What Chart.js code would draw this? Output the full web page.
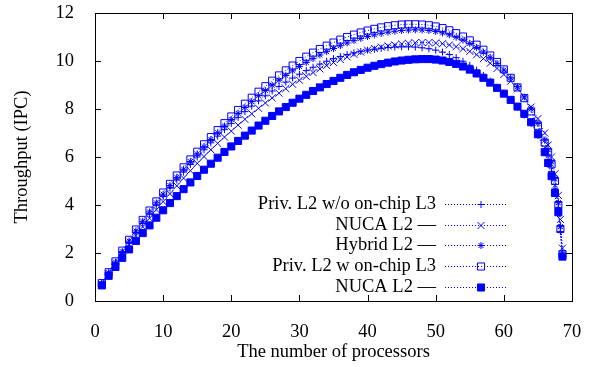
<!DOCTYPE html>
<html>
<head>
<meta charset="utf-8">
<script src="https://cdn.jsdelivr.net/npm/chart.js@4.4.1/dist/chart.umd.min.js"></script>
<style>
  body { margin: 0; background: #fff; }
  canvas { display: block; }
</style>
</head>
<body>
<canvas id="grafik" width="592" height="367"></canvas>
<script>
// number of processors (shared x values)
const processors = [1, 2, 3, 4, 5, 6, 7, 8, 9, 10, 11, 12, 13, 14, 15, 16, 17, 18, 19, 20,
    21, 22, 23, 24, 25, 26, 27, 28, 29, 30, 31, 32, 33, 34, 35, 36, 37, 38, 39, 40,
    41, 42, 43, 44, 45, 46, 47, 48, 49, 50, 51, 52, 53, 54, 55, 56, 57, 58, 59, 60,
    61, 62, 63, 64, 65, 66, 66.5, 67, 67.5, 68, 68.3, 68.6];

// throughput (IPC)
const privNoL3 = [0.72, 1.16, 1.59, 2.02, 2.44, 2.85, 3.24, 3.62, 3.99, 4.35, 4.7, 5.04, 5.37, 5.69, 6.0, 6.3, 6.59, 6.87, 7.14, 7.4,
    7.65, 7.89, 8.12, 8.34, 8.55, 8.75, 8.94, 9.12, 9.29, 9.45, 9.6, 9.74, 9.87, 9.99, 10.1, 10.19, 10.27, 10.34, 10.4, 10.45,
    10.49, 10.53, 10.56, 10.58, 10.59, 10.59, 10.58, 10.55, 10.51, 10.45, 10.37, 10.27, 10.14, 9.99, 9.82, 9.62, 9.4, 9.16, 8.9, 8.64,
    8.37, 8.08, 7.75, 7.4, 6.9, 6.3, 5.9, 5.4, 4.7, 3.9, 2.9, 1.9];
const nucaA = [0.7, 1.12, 1.53, 1.94, 2.34, 2.72, 3.09, 3.45, 3.8, 4.14, 4.47, 4.8, 5.12, 5.43, 5.73, 6.02, 6.3, 6.57, 6.83, 7.08,
    7.33, 7.57, 7.8, 8.03, 8.25, 8.46, 8.66, 8.85, 9.03, 9.2, 9.36, 9.52, 9.67, 9.81, 9.94, 10.06, 10.17, 10.28, 10.37, 10.45,
    10.52, 10.58, 10.63, 10.67, 10.71, 10.74, 10.76, 10.77, 10.77, 10.75, 10.72, 10.67, 10.6, 10.51, 10.4, 10.26, 10.1, 9.91, 9.69, 9.44,
    9.16, 8.84, 8.48, 8.08, 7.6, 7.0, 6.5, 6.0, 5.3, 4.4, 3.4, 2.2];
const hybrid = [0.73, 1.18, 1.62, 2.06, 2.5, 2.92, 3.32, 3.71, 4.09, 4.45, 4.81, 5.15, 5.49, 5.81, 6.13, 6.43, 6.73, 7.01, 7.29, 7.56,
    7.82, 8.07, 8.31, 8.55, 8.77, 8.99, 9.2, 9.4, 9.59, 9.77, 9.94, 10.1, 10.25, 10.39, 10.52, 10.64, 10.75, 10.85, 10.94, 11.02,
    11.09, 11.15, 11.2, 11.24, 11.27, 11.29, 11.3, 11.29, 11.27, 11.23, 11.17, 11.09, 10.99, 10.87, 10.73, 10.56, 10.37, 10.15, 9.9, 9.62,
    9.3, 8.93, 8.5, 8.0, 7.4, 6.7, 6.3, 5.8, 5.1, 4.1, 3.1, 2.0];
const privL3 = [0.75, 1.2, 1.65, 2.1, 2.55, 2.98, 3.38, 3.77, 4.15, 4.52, 4.88, 5.23, 5.57, 5.9, 6.22, 6.53, 6.83, 7.12, 7.41, 7.69,
    7.96, 8.22, 8.47, 8.72, 8.95, 9.18, 9.4, 9.61, 9.81, 10.0, 10.18, 10.35, 10.5, 10.64, 10.77, 10.89, 11.0, 11.1, 11.19, 11.27,
    11.34, 11.4, 11.45, 11.49, 11.52, 11.53, 11.53, 11.52, 11.49, 11.44, 11.37, 11.28, 11.16, 11.02, 10.86, 10.68, 10.47, 10.23, 9.96, 9.65,
    9.3, 8.9, 8.45, 7.9, 7.3, 6.6, 6.2, 5.7, 5.0, 4.0, 3.0, 1.95];
const nucaB = [0.65, 1.05, 1.42, 1.8, 2.15, 2.5, 2.83, 3.15, 3.47, 3.78, 4.08, 4.37, 4.66, 4.94, 5.21, 5.47, 5.72, 5.97, 6.21, 6.44,
    6.67, 6.89, 7.1, 7.31, 7.51, 7.71, 7.9, 8.08, 8.26, 8.43, 8.59, 8.75, 8.9, 9.04, 9.17, 9.3, 9.42, 9.53, 9.63, 9.72,
    9.8, 9.87, 9.93, 9.98, 10.02, 10.05, 10.07, 10.08, 10.08, 10.06, 10.02, 9.96, 9.88, 9.77, 9.64, 9.48, 9.3, 9.1, 8.88, 8.64,
    8.38, 8.1, 7.8, 7.45, 6.95, 6.2, 5.75, 5.2, 4.5, 3.7, null, 1.85];

const seriesLabels = ['Priv. L2 w/o on-chip L3', 'NUCA L2 —', 'Hybrid L2 —', 'Priv. L2 w on-chip L3', 'NUCA L2 —'];
const seriesValues = [privNoL3, nucaA, hybrid, privL3, nucaB];
const xTicks = [0, 10, 20, 30, 40, 50, 60, 70];
const yTicks = [0, 2, 4, 6, 8, 10, 12];

const biru = '#0000ff';
const fontSerif = "'Liberation Serif', 'Times New Roman', serif";
const ukuranHuruf = 18.5;
Chart.defaults.font.family = fontSerif;
Chart.defaults.font.size = ukuranHuruf;
Chart.defaults.color = '#000';

const gaya = [
    { pointStyle: 'cross', pointRadius: 3.5, fill: false },
    { pointStyle: 'crossRot', pointRadius: 5, fill: false },
    { pointStyle: 'star', pointRadius: 3.5, fill: false },
    { pointStyle: 'rect', pointRadius: 5, fill: false },
    { pointStyle: 'rect', pointRadius: 5, fill: true }
];

const datasets = seriesValues.map((vals, i) => ({
    label: seriesLabels[i],
    data: vals.map((y, k) => ({ x: processors[k], y: y })),
    borderColor: biru,
    borderWidth: 1,
    borderDash: [1, 2],
    pointStyle: gaya[i].pointStyle,
    pointRadius: gaya[i].pointRadius,
    pointBorderWidth: 1,
    pointBorderColor: biru,
    pointBackgroundColor: gaya[i].fill ? biru : 'rgba(0,0,0,0)',
    spanGaps: true,
    order: 5 - i
}));

// kotak plot + tick ke dalam (gaya gnuplot)
const bingkai = {
    id: 'bingkai',
    afterDraw(chart) {
        const { ctx, chartArea: a, scales } = chart;
        ctx.save();
        ctx.strokeStyle = '#000';
        ctx.lineWidth = 1;
        ctx.beginPath();
        xTicks.forEach(v => {
            const px = Math.round(scales.x.getPixelForValue(v)) + 0.5;
            ctx.moveTo(px, a.bottom); ctx.lineTo(px, a.bottom - 6);
            ctx.moveTo(px, a.top); ctx.lineTo(px, a.top + 6);
        });
        yTicks.forEach(v => {
            const py = Math.round(scales.y.getPixelForValue(v)) + 0.5;
            ctx.moveTo(a.left, py); ctx.lineTo(a.left + 6, py);
            ctx.moveTo(a.right, py); ctx.lineTo(a.right - 6, py);
        });
        ctx.stroke();
        ctx.strokeRect(Math.round(a.left) + 0.5, Math.round(a.top) + 0.5,
            Math.round(a.right - a.left), Math.round(a.bottom - a.top));
        ctx.restore();
    }
};

// legenda di dalam plot: teks rata kanan, contoh garis di kanan
const legenda = {
    id: 'legenda',
    afterDraw(chart) {
        const { ctx } = chart;
        ctx.save();
        ctx.font = ukuranHuruf + 'px ' + fontSerif;
        ctx.textAlign = 'right';
        ctx.textBaseline = 'middle';
        chart.data.datasets.forEach((ds, i) => {
            const y = Math.round(204 + i * 20.7) + 0.5;
            ctx.fillStyle = '#000';
            ctx.fillText(ds.label, 436, y);
            ctx.strokeStyle = biru;
            ctx.lineWidth = 1;
            ctx.setLineDash([1, 2]);
            ctx.beginPath();
            ctx.moveTo(445, y);
            ctx.lineTo(507, y);
            ctx.stroke();
            ctx.setLineDash([]);
            ctx.fillStyle = ds.pointBackgroundColor;
            Chart.helpers.drawPoint(ctx, {
                pointStyle: ds.pointStyle,
                radius: ds.pointRadius,
                rotation: 0,
                borderWidth: 1
            }, 481, y);
        });
        ctx.restore();
    }
};

const ctx = document.getElementById('grafik').getContext('2d');
const grafik = new Chart(ctx, {
    type: 'line',
    data: { datasets: datasets },
    options: {
        responsive: false,
        animation: false,
        layout: { padding: { top: 13, right: 20, left: 0, bottom: 0 } },
        plugins: { legend: { display: false }, tooltip: { enabled: false } },
        scales: {
            x: {
                type: 'linear',
                min: 0,
                max: 70,
                afterFit: s => { s.height = 66; s.paddingLeft = 0; s.paddingRight = 0; },
                afterBuildTicks: s => { s.ticks = xTicks.map(v => ({ value: v })); },
                grid: { display: false },
                border: { display: false },
                ticks: { color: '#000', font: { family: fontSerif, size: ukuranHuruf }, padding: 12, maxRotation: 0 },
                title: { display: true, text: 'The number of processors', color: '#000', font: { family: fontSerif, size: ukuranHuruf }, padding: { top: 2, bottom: 4 } }
            },
            y: {
                min: 0,
                max: 12,
                afterFit: s => { s.width = 95; s.paddingTop = 0; s.paddingBottom = 0; },
                afterBuildTicks: s => { s.ticks = yTicks.map(v => ({ value: v })); },
                grid: { display: false },
                border: { display: false },
                ticks: { color: '#000', font: { family: fontSerif, size: ukuranHuruf }, padding: 13 },
                title: { display: true, text: 'Throughput (IPC)', color: '#000', font: { family: fontSerif, size: ukuranHuruf }, padding: { top: 11, bottom: 0 } }
            }
        }
    },
    plugins: [bingkai, legenda]
});
</script>
</body>
</html>
